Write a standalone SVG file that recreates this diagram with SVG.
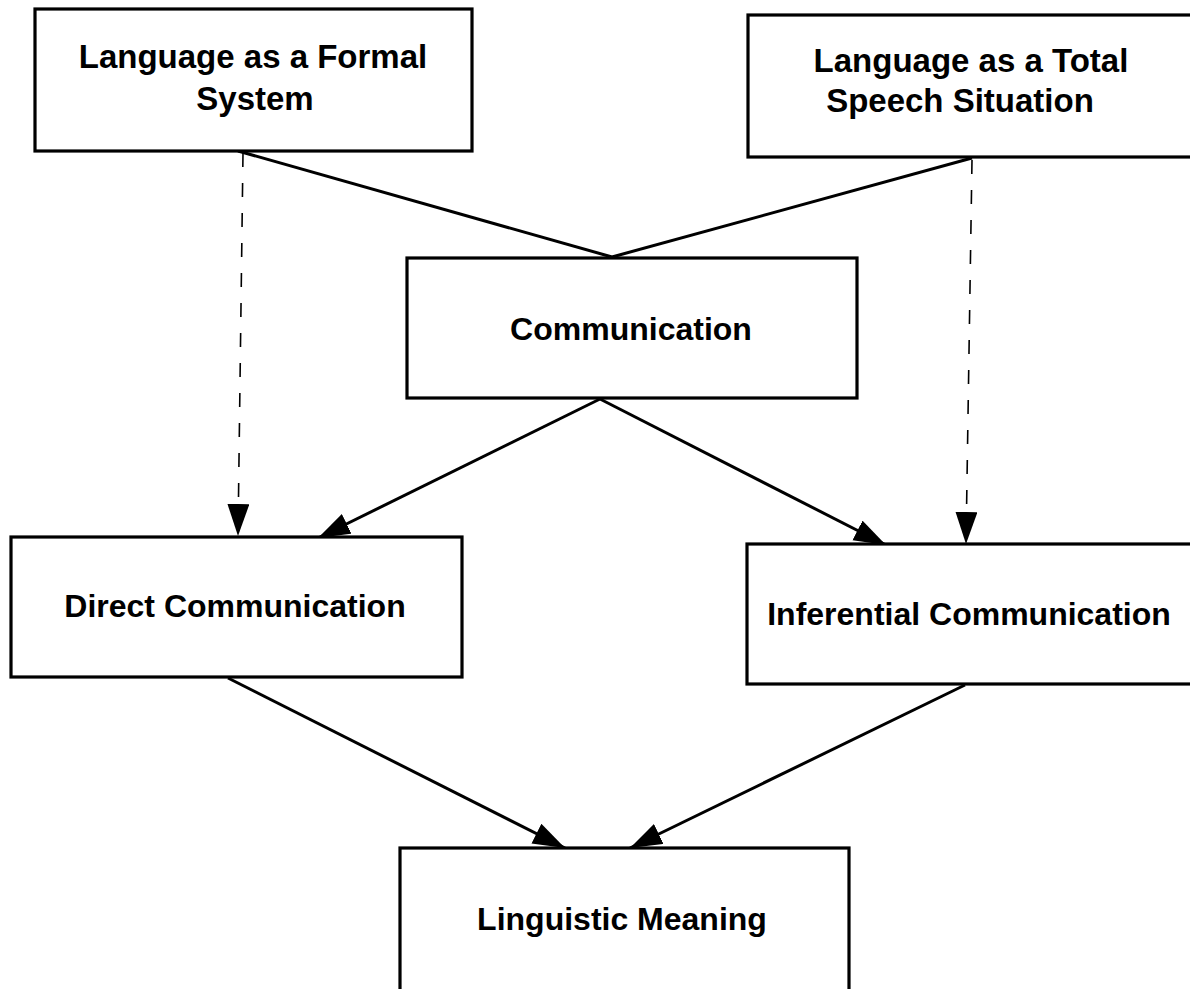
<svg xmlns="http://www.w3.org/2000/svg" width="1190" height="989" viewBox="0 0 1190 989">
<style>
.box{fill:#fff;stroke:#000;stroke-width:3.2}
.lbl{font-family:"Liberation Sans",Arial,sans-serif;font-weight:bold;font-size:32px;fill:#000;text-anchor:middle}
.big{font-size:33px}
.solid{stroke:#000;stroke-width:3;fill:none}
.dash{stroke:#000;stroke-width:1.6;fill:none;stroke-dasharray:14 16}
</style>
<defs>
<marker id="arr" markerUnits="userSpaceOnUse" markerWidth="34" markerHeight="24" refX="32" refY="11" orient="auto">
<path d="M0,0 L32,11 L0,22 z" fill="#000"/>
</marker>
</defs>
<g id="connectors">
<line class="solid" x1="238" y1="151" x2="612" y2="257"/>
<line class="solid" x1="972" y1="158" x2="612" y2="257"/>
<line class="dash" x1="243" y1="153" x2="238" y2="536" marker-end="url(#arr)"/>
<line class="dash" x1="972" y1="160" x2="966" y2="544" marker-end="url(#arr)"/>
<line class="solid" x1="600" y1="399" x2="318" y2="538" marker-end="url(#arr)"/>
<line class="solid" x1="600" y1="399" x2="886" y2="545" marker-end="url(#arr)"/>
<line class="solid" x1="228" y1="678" x2="565" y2="848" marker-end="url(#arr)"/>
<line class="solid" x1="965" y1="685" x2="630" y2="848" marker-end="url(#arr)"/>
</g>
<g id="formal">
<rect class="box" x="35" y="9" width="437" height="142"/>
<text class="lbl big" x="253" y="68">Language as a Formal</text>
<text class="lbl big" x="255" y="110">System</text>
</g>
<g id="total">
<rect class="box" x="748" y="15" width="460" height="142"/>
<text class="lbl big" x="971" y="72">Language as a Total</text>
<text class="lbl big" x="960" y="112">Speech Situation</text>
</g>
<g id="communication">
<rect class="box" x="407" y="258" width="450" height="140"/>
<text class="lbl" x="631" y="340">Communication</text>
</g>
<g id="direct">
<rect class="box" x="11" y="537" width="451" height="140"/>
<text class="lbl" x="235" y="617">Direct Communication</text>
</g>
<g id="inferential">
<rect class="box" x="747" y="544" width="460" height="140"/>
<text class="lbl" x="969" y="625">Inferential Communication</text>
</g>
<g id="meaning">
<rect class="box" x="400" y="848" width="449" height="160"/>
<text class="lbl" x="622" y="930">Linguistic Meaning</text>
</g>
</svg>
